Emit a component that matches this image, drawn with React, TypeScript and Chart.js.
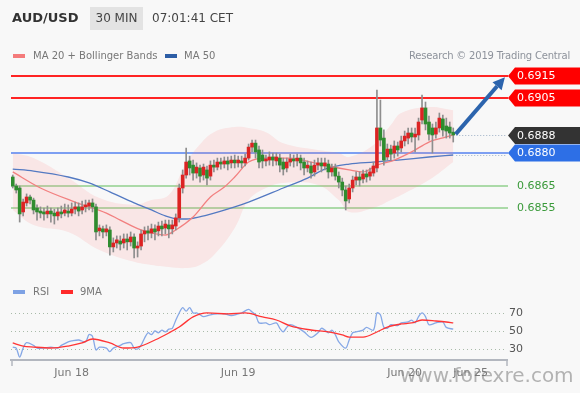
import React, { useEffect, useRef } from 'react';
import { Chart, registerables } from 'chart.js';

Chart.register(...registerables);

const FONT = '"DejaVu Sans", Verdana, sans-serif';

// ---- x slots (30-min candles) ----
const slotCount = 143;
const xTickIndex = [17, 65, 113, 132];
const xTickText = ['Jun 18', 'Jun 19', 'Jun 20', 'Jun 25'];

// ---- candles ----
const opens = [
  0.68691, 0.6865, 0.68641, 0.68532, 0.68573, 0.686, 0.68586, 0.6855, 0.68536, 0.68532,
  0.68523, 0.68536, 0.68527, 0.68514, 0.68532, 0.68527, 0.68536, 0.68527, 0.68545, 0.68555,
  0.68541, 0.68555, 0.68559, 0.68573, 0.68555, 0.68446, 0.68455, 0.68441, 0.6845, 0.68373,
  0.68391, 0.684, 0.68391, 0.68409, 0.68396, 0.68418, 0.68368, 0.68377, 0.68432, 0.68446,
  0.68436, 0.68455, 0.68446, 0.68468, 0.68459, 0.68473, 0.68455, 0.68468, 0.68505, 0.68641,
  0.687, 0.68764, 0.68745, 0.68709, 0.68732, 0.687, 0.68723, 0.68695, 0.68745, 0.68736,
  0.68759, 0.6875, 0.68764, 0.68755, 0.68768, 0.68755, 0.68764, 0.68755, 0.68777, 0.68827,
  0.68845, 0.68814, 0.68791, 0.68764, 0.68768, 0.68782, 0.68764, 0.68777, 0.68759, 0.68732,
  0.68759, 0.68773, 0.68764, 0.68777, 0.68759, 0.68732, 0.68741, 0.68714, 0.68745, 0.68755,
  0.68741, 0.6875, 0.68714, 0.68732, 0.68695, 0.68668, 0.68632, 0.68591, 0.68641, 0.68677,
  0.68691, 0.68682, 0.68705, 0.68695, 0.68709, 0.68732, 0.68914, 0.68868, 0.68782, 0.68818,
  0.688, 0.68832, 0.68823, 0.68855, 0.68868, 0.68891, 0.68873, 0.68882, 0.6895, 0.69005,
  0.68941, 0.68914, 0.68886, 0.68914, 0.68955, 0.68923, 0.68918, 0.68895,
];
const highs = [
  0.687, 0.68659, 0.6865, 0.68591, 0.68614, 0.68609, 0.68595, 0.68564, 0.68555, 0.6855,
  0.68559, 0.6855, 0.68545, 0.6855, 0.68559, 0.68568, 0.68564, 0.68573, 0.68577, 0.68573,
  0.68582, 0.68586, 0.68586, 0.68591, 0.68568, 0.68473, 0.68468, 0.68473, 0.68464, 0.68414,
  0.68423, 0.68423, 0.68432, 0.68432, 0.68441, 0.68432, 0.68396, 0.6845, 0.68464, 0.68468,
  0.68477, 0.68473, 0.68486, 0.68491, 0.68495, 0.68495, 0.68495, 0.68523, 0.68659, 0.68723,
  0.68823, 0.68786, 0.68768, 0.68755, 0.68745, 0.6875, 0.68741, 0.68764, 0.68768, 0.68777,
  0.68777, 0.68782, 0.68782, 0.68786, 0.68791, 0.68786, 0.68786, 0.68795, 0.68841, 0.68859,
  0.68859, 0.68832, 0.68814, 0.68791, 0.68805, 0.688, 0.688, 0.68795, 0.68777, 0.68777,
  0.68795, 0.68791, 0.68795, 0.68791, 0.68777, 0.68764, 0.68759, 0.68768, 0.68777, 0.68777,
  0.68777, 0.68768, 0.6875, 0.6875, 0.68714, 0.68686, 0.6865, 0.68659, 0.68695, 0.68714,
  0.68714, 0.68723, 0.68723, 0.68732, 0.68759, 0.69086, 0.69041, 0.68905, 0.68841, 0.68836,
  0.68855, 0.6885, 0.68877, 0.689, 0.68914, 0.68914, 0.68914, 0.68959, 0.69064, 0.69032,
  0.68968, 0.68932, 0.68941, 0.68982, 0.68973, 0.68959, 0.68941, 0.68914,
];
const lows = [
  0.68641, 0.68618, 0.68486, 0.68514, 0.68559, 0.68568, 0.68523, 0.68495, 0.68505, 0.68495,
  0.68505, 0.68486, 0.68477, 0.68495, 0.68505, 0.68514, 0.68509, 0.68514, 0.68523, 0.68514,
  0.68523, 0.68532, 0.68541, 0.68532, 0.68405, 0.68423, 0.68414, 0.68423, 0.68336, 0.6835,
  0.68368, 0.68359, 0.68368, 0.68359, 0.68377, 0.68323, 0.68327, 0.68359, 0.68396, 0.68405,
  0.68414, 0.68405, 0.68423, 0.68423, 0.68432, 0.68414, 0.68432, 0.6845, 0.68486, 0.68618,
  0.68686, 0.687, 0.68677, 0.68686, 0.68668, 0.68677, 0.68655, 0.68677, 0.68714, 0.68723,
  0.68727, 0.68732, 0.68723, 0.68732, 0.68732, 0.68736, 0.68732, 0.68741, 0.68768, 0.68805,
  0.68777, 0.68732, 0.68732, 0.68741, 0.68745, 0.68741, 0.68745, 0.68714, 0.687, 0.68714,
  0.68741, 0.68736, 0.68741, 0.68723, 0.687, 0.68714, 0.68686, 0.68695, 0.68723, 0.68714,
  0.68723, 0.68686, 0.68695, 0.68677, 0.68641, 0.68605, 0.68541, 0.68573, 0.68623, 0.68655,
  0.6865, 0.68664, 0.68668, 0.68677, 0.68695, 0.68714, 0.68832, 0.68745, 0.68768, 0.68768,
  0.68777, 0.68786, 0.68805, 0.68832, 0.68841, 0.6885, 0.68805, 0.68859, 0.68932, 0.68905,
  0.68859, 0.688, 0.68868, 0.68895, 0.68877, 0.68868, 0.68868, 0.6885,
];
const closes = [
  0.6865, 0.68632, 0.68523, 0.68577, 0.686, 0.68586, 0.68541, 0.68532, 0.68527, 0.68523,
  0.68536, 0.68523, 0.68514, 0.68532, 0.68523, 0.68541, 0.68527, 0.68545, 0.68555, 0.68536,
  0.68555, 0.68564, 0.68573, 0.68555, 0.68441, 0.68459, 0.68441, 0.68455, 0.68373, 0.68391,
  0.68405, 0.68386, 0.68409, 0.68396, 0.68418, 0.68368, 0.68377, 0.68432, 0.68446, 0.68436,
  0.68455, 0.68441, 0.68468, 0.68455, 0.68477, 0.68455, 0.68473, 0.68505, 0.68641, 0.687,
  0.68759, 0.68732, 0.68709, 0.68736, 0.68695, 0.68736, 0.68686, 0.68745, 0.68736, 0.68759,
  0.6875, 0.68764, 0.6875, 0.68768, 0.68755, 0.68768, 0.68755, 0.68777, 0.68827, 0.68845,
  0.68805, 0.68759, 0.68764, 0.68773, 0.68782, 0.68768, 0.68782, 0.68745, 0.68727, 0.68759,
  0.68773, 0.68764, 0.68777, 0.68755, 0.68732, 0.68745, 0.68709, 0.68745, 0.68755, 0.68741,
  0.68755, 0.68714, 0.68732, 0.68695, 0.68668, 0.68632, 0.68582, 0.68641, 0.68677, 0.68691,
  0.68677, 0.68705, 0.68691, 0.68714, 0.68741, 0.68914, 0.68859, 0.68768, 0.68818, 0.68795,
  0.68832, 0.68814, 0.68855, 0.68877, 0.68891, 0.68873, 0.68886, 0.68941, 0.69005, 0.68932,
  0.68886, 0.68882, 0.68914, 0.68959, 0.68905, 0.689, 0.68891, 0.68882,
];

// ---- Bollinger bands / moving averages (read at selected candles) ----
const bandIdx = [0, 6, 16, 25, 35, 40, 45, 50, 54, 58, 64, 68, 73, 78, 88, 94, 97, 104, 109, 112, 120, 127];
const bandUpper = [0.688, 0.68777, 0.68686, 0.68595, 0.68564, 0.68586, 0.68609, 0.68755, 0.6884, 0.68895, 0.68918, 0.68914, 0.68895, 0.68845, 0.68814, 0.688, 0.68782, 0.68836, 0.68927, 0.68982, 0.69009, 0.68995];
const bandLower = [0.68541, 0.68473, 0.68441, 0.68359, 0.68305, 0.68291, 0.68282, 0.68277, 0.68291, 0.68336, 0.68459, 0.68586, 0.68641, 0.68664, 0.68655, 0.68586, 0.68532, 0.6855, 0.68586, 0.68609, 0.68677, 0.68759];

const ma20Idx = [0, 8, 18, 27, 31, 37, 44, 47, 52, 57, 61, 64, 68, 73, 80, 86, 91, 97, 101, 105, 110, 115, 120, 125, 127];
const ma20 = [0.68714, 0.68641, 0.68577, 0.68527, 0.68495, 0.6845, 0.68427, 0.6845, 0.68509, 0.686, 0.68645, 0.68691, 0.68759, 0.68777, 0.68777, 0.68759, 0.68741, 0.68723, 0.68714, 0.68745, 0.68768, 0.68805, 0.6885, 0.68873, 0.68882];

const ma50Idx = [0, 6, 16, 22, 28, 35, 40, 44, 48, 50, 56, 64, 68, 78, 85, 90, 97, 104, 111, 120, 127];
const ma50 = [0.68727, 0.68718, 0.68691, 0.68664, 0.68623, 0.68573, 0.68541, 0.68514, 0.685, 0.685, 0.68518, 0.68555, 0.68577, 0.68641, 0.68686, 0.68727, 0.6875, 0.68759, 0.68768, 0.68782, 0.68791];

// ---- levels ----
const resistances = [0.6915, 0.6905];
const pivotLevel = 0.688;
const supports = [0.6865, 0.6855];
const lastPrice = 0.6888;
const arrowFrom = [127.7, 0.68886];
const arrowTo = [141.9, 0.69145];

// ---- RSI panel ----
const rsiIdx = [0, 1, 2, 3, 4, 6, 7, 9, 11, 13, 14, 16, 17, 19, 21, 22, 23, 24, 25, 27, 28, 29, 31, 32, 34, 35, 36, 37, 38, 39, 40, 41, 42, 43, 44, 45, 46, 47, 48, 49, 50, 51, 52, 53, 54, 55, 57, 59, 61, 63, 65, 66, 68, 69, 70, 71, 73, 74, 76, 77, 78, 79, 80, 82, 84, 86, 88, 89, 90, 91, 92, 93, 94, 96, 97, 98, 99, 101, 102, 104, 105, 106, 107, 108, 109, 111, 112, 114, 115, 116, 117, 118, 119, 120, 122, 124, 125, 127];
const rsi = [32, 31, 21, 31, 37, 34, 31, 31, 32, 31, 34, 38, 39, 40, 38, 46, 44, 29, 32, 31, 27, 31, 34, 36, 37, 31, 30, 34, 42, 48, 46, 50, 48, 51, 49, 52, 53, 62, 70, 76, 72, 76, 70, 70, 68, 66, 68, 69, 69, 67, 69, 70, 74, 71, 68, 59, 59, 57, 59, 53, 49, 54, 57, 54, 49, 43, 48, 53, 51, 48, 51, 46, 38, 31, 40, 48, 49, 51, 54, 51, 70, 68, 54, 53, 57, 56, 59, 60, 62, 59, 66, 70, 66, 57, 59, 60, 54, 52];
const rsiMaIdx = [0, 3, 6, 11, 16, 20, 23, 28, 32, 36, 41, 45, 48, 52, 56, 62, 67, 72, 76, 80, 86, 91, 95, 97, 101, 105, 108, 112, 115, 118, 122, 125, 127];
const rsiMa = [36.7, 33.3, 32.2, 31.1, 33.3, 36.7, 41.1, 36.7, 31.1, 32.2, 40, 47.8, 54.4, 65.6, 70, 68.9, 70, 65.6, 62.2, 55.6, 51.1, 48.9, 45.6, 43.3, 43.3, 48.9, 54.4, 57.8, 58.9, 62.2, 61.1, 60, 58.9];
const rsiLevels = [30, 50, 70];

const UP = '#dc2323';
const DOWN = '#2f8c2f';

function pts(idx: number[], vals: number[]) {
  return idx.map((x, i) => ({ x, y: vals[i] }));
}

function drawTag(ctx: CanvasRenderingContext2D, tipX: number, y: number, text: string, bg: string) {
  const h = 17;
  const bodyX = tipX + 7;
  ctx.save();
  ctx.fillStyle = bg;
  ctx.beginPath();
  ctx.moveTo(tipX, y);
  ctx.lineTo(bodyX, y - h / 2);
  ctx.lineTo(580, y - h / 2);
  ctx.lineTo(580, y + h / 2);
  ctx.lineTo(bodyX, y + h / 2);
  ctx.closePath();
  ctx.fill();
  ctx.fillStyle = '#ffffff';
  ctx.font = '11px ' + FONT;
  ctx.textAlign = 'left';
  ctx.textBaseline = 'middle';
  ctx.fillText(text, bodyX + 2, y + 0.5);
  ctx.restore();
}

const levelsPlugin = {
  id: 'levels',
  beforeDatasetsDraw(chart: any) {
    const { ctx, chartArea, scales } = chart;
    const y = scales.y;
    const tipX = chartArea.right + 1;
    ctx.save();
    ctx.lineWidth = 2;
    const line = (v: number, color: string) => {
      const py = Math.round(y.getPixelForValue(v));
      ctx.strokeStyle = color;
      ctx.beginPath();
      ctx.moveTo(chartArea.left, py);
      ctx.lineTo(tipX, py);
      ctx.stroke();
    };
    supports.forEach((v) => line(v, '#abdaa8'));
    line(pivotLevel, '#7d9ff2');
    resistances.forEach((v) => line(v, '#ff2424'));
    ctx.restore();
  },
  afterDatasetsDraw(chart: any) {
    const { ctx, chartArea, scales } = chart;
    const x = scales.x;
    const y = scales.y;
    const tipX = chartArea.right + 1;
    ctx.save();
    ctx.setLineDash([1, 2]);
    ctx.lineWidth = 1;
    ctx.strokeStyle = '#9db0c6';
    const startX = x.getPixelForValue(closes.length - 1) + 3;
    [lastPrice, ma50[ma50.length - 1]].forEach((v) => {
      const py = Math.round(y.getPixelForValue(v)) + 0.5;
      ctx.beginPath();
      ctx.moveTo(startX, py);
      ctx.lineTo(tipX - 2, py);
      ctx.stroke();
    });
    ctx.setLineDash([]);
    const x0 = x.getPixelForValue(arrowFrom[0]);
    const y0 = y.getPixelForValue(arrowFrom[1]);
    const x1 = x.getPixelForValue(arrowTo[0]);
    const y1 = y.getPixelForValue(arrowTo[1]);
    const ang = Math.atan2(y1 - y0, x1 - x0);
    const headLen = 12;
    const headW = 6;
    const bx = x1 - headLen * Math.cos(ang);
    const by = y1 - headLen * Math.sin(ang);
    ctx.strokeStyle = '#2c64ad';
    ctx.fillStyle = '#2c64ad';
    ctx.lineWidth = 4;
    ctx.beginPath();
    ctx.moveTo(x0, y0);
    ctx.lineTo(bx, by);
    ctx.stroke();
    ctx.beginPath();
    ctx.moveTo(x1, y1);
    ctx.lineTo(bx + headW * Math.sin(ang), by - headW * Math.cos(ang));
    ctx.lineTo(bx - headW * Math.sin(ang), by + headW * Math.cos(ang));
    ctx.closePath();
    ctx.fill();
    ctx.restore();
    resistances.forEach((v) => drawTag(ctx, tipX, y.getPixelForValue(v), v.toFixed(4), '#ff0000'));
    drawTag(ctx, tipX, y.getPixelForValue(lastPrice), lastPrice.toFixed(4), '#333333');
    drawTag(ctx, tipX, y.getPixelForValue(pivotLevel), pivotLevel.toFixed(4), '#2d6fe6');
    ctx.save();
    ctx.fillStyle = '#3a9a3a';
    ctx.font = '11px ' + FONT;
    ctx.textAlign = 'left';
    ctx.textBaseline = 'middle';
    supports.forEach((v) => ctx.fillText(v.toFixed(4), tipX + 9, y.getPixelForValue(v) + 0.5));
    ctx.restore();
  },
};

const rsiPlugin = {
  id: 'rsiGrid',
  beforeDatasetsDraw(chart: any) {
    const { ctx, chartArea, scales } = chart;
    ctx.save();
    ctx.setLineDash([1, 3]);
    ctx.lineWidth = 1;
    ctx.strokeStyle = '#a9bba9';
    rsiLevels.forEach((v) => {
      const py = Math.round(scales.y.getPixelForValue(v)) + 0.5;
      ctx.beginPath();
      ctx.moveTo(chartArea.left, py);
      ctx.lineTo(chartArea.right - 2, py);
      ctx.stroke();
    });
    ctx.restore();
  },
  afterDraw(chart: any) {
    const { ctx, chartArea } = chart;
    ctx.save();
    ctx.strokeStyle = '#b3b7bf';
    ctx.lineWidth = 1.5;
    [chartArea.left + 1, chartArea.right].forEach((px) => {
      ctx.beginPath();
      ctx.moveTo(px, chartArea.bottom);
      ctx.lineTo(px, chartArea.bottom + 6);
      ctx.stroke();
    });
    ctx.restore();
  },
};

export default function App() {
  const mainRef = useRef<HTMLCanvasElement>(null);
  const rsiRef = useRef<HTMLCanvasElement>(null);

  useEffect(() => {
    Chart.defaults.font.family = FONT;
    const candleColors = opens.map((o, i) => (closes[i] >= o ? UP : DOWN));
    const main = new Chart(mainRef.current as HTMLCanvasElement, {
      type: 'bar',
      data: {
        datasets: [
          {
            type: 'line',
            data: pts(bandIdx, bandUpper),
            borderColor: 'rgba(0,0,0,0)',
            borderWidth: 0,
            backgroundColor: 'rgba(255,130,130,0.15)',
            fill: '+1',
            pointRadius: 0,
            tension: 0.4,
            order: 6,
          } as any,
          {
            type: 'line',
            data: pts(bandIdx, bandLower),
            borderColor: 'rgba(0,0,0,0)',
            borderWidth: 0,
            fill: false,
            pointRadius: 0,
            tension: 0.4,
            order: 5,
          } as any,
          {
            type: 'line',
            data: pts(ma50Idx, ma50),
            borderColor: '#5379c2',
            borderWidth: 1.3,
            fill: false,
            pointRadius: 0,
            cubicInterpolationMode: 'monotone',
            order: 4,
          } as any,
          {
            type: 'line',
            data: pts(ma20Idx, ma20),
            borderColor: '#f28080',
            borderWidth: 1.3,
            fill: false,
            pointRadius: 0,
            cubicInterpolationMode: 'monotone',
            order: 3,
          } as any,
          {
            type: 'bar',
            data: lows.map((l, i) => ({ x: i, y: [l, highs[i]] })),
            backgroundColor: '#8e8e8e',
            barThickness: 1,
            grouped: false,
            order: 2,
          } as any,
          {
            type: 'bar',
            data: opens.map((o, i) => ({ x: i, y: [o, closes[i]] })),
            backgroundColor: candleColors,
            barThickness: 3,
            grouped: false,
            order: 1,
          } as any,
        ],
      },
      options: {
        responsive: false,
        animation: false,
        devicePixelRatio: 1,
        layout: { padding: { top: 62, bottom: 123, left: 11, right: 73 } },
        plugins: { legend: { display: false }, tooltip: { enabled: false } },
        scales: {
          x: { type: 'linear', min: -0.5, max: slotCount - 0.5, offset: false, display: false },
          y: { type: 'linear', min: 0.68268, max: 0.69214, beginAtZero: false, display: false },
        },
      } as any,
      plugins: [levelsPlugin],
    });

    const rsiChart = new Chart(rsiRef.current as HTMLCanvasElement, {
      type: 'line',
      data: {
        datasets: [
          {
            data: pts(rsiMaIdx, rsiMa),
            borderColor: '#ff3434',
            borderWidth: 1.3,
            pointRadius: 0,
            cubicInterpolationMode: 'monotone',
            order: 1,
          } as any,
          {
            data: pts(rsiIdx, rsi),
            borderColor: '#86a8e6',
            borderWidth: 1.3,
            pointRadius: 0,
            tension: 0.3,
            order: 2,
          } as any,
        ],
      },
      options: {
        responsive: false,
        animation: false,
        devicePixelRatio: 1,
        layout: { padding: { top: 300, bottom: 0, left: 11, right: 0 } },
        plugins: { legend: { display: false }, tooltip: { enabled: false } },
        scales: {
          x: {
            type: 'linear',
            min: -0.5,
            max: slotCount - 0.5,
            offset: false,
            grid: { display: false, drawTicks: false },
            border: { display: true, color: '#b3b7bf', width: 2 },
            ticks: {
              color: '#777777',
              font: { size: 11, family: FONT },
              padding: 7,
              maxRotation: 0,
              autoSkip: false,
              callback: (v: any) => {
                const k = xTickIndex.indexOf(Number(v));
                return k >= 0 ? xTickText[k] : '';
              },
            },
            afterBuildTicks: (s: any) => {
              s.ticks = xTickIndex.map((v) => ({ value: v }));
            },
            afterFit: (s: any) => {
              s.height = 33;
            },
          },
          y: {
            type: 'linear',
            position: 'right',
            min: 17.8,
            max: 84.4,
            grid: { display: false, drawTicks: false },
            border: { display: false },
            ticks: {
              color: '#555555',
              font: { size: 11, family: FONT },
              padding: 2,
              callback: (v: any) => String(v),
            },
            afterBuildTicks: (s: any) => {
              s.ticks = rsiLevels.map((v) => ({ value: v }));
            },
            afterFit: (s: any) => {
              s.width = 73;
            },
          },
        },
      } as any,
      plugins: [rsiPlugin],
    });

    return () => {
      main.destroy();
      rsiChart.destroy();
    };
  }, []);

  const abs = (o: React.CSSProperties): React.CSSProperties => ({ position: 'absolute', whiteSpace: 'nowrap', ...o });

  return (
    <div
      style={{
        position: 'fixed',
        left: 0,
        top: 0,
        width: 580,
        height: 393,
        background: '#f8f8f8',
        overflow: 'hidden',
        fontFamily: FONT,
      }}
    >
      <canvas ref={mainRef} width={580} height={393} style={{ position: 'absolute', left: 0, top: 0, width: 580, height: 393 }} />
      <canvas ref={rsiRef} width={580} height={393} style={{ position: 'absolute', left: 0, top: 0, width: 580, height: 393 }} />

      <div style={abs({ left: 12, top: 9, fontSize: 13, lineHeight: '18px', fontWeight: 'bold', color: '#333' })}>AUD/USD</div>
      <div
        style={abs({
          left: 90,
          top: 7,
          width: 53,
          height: 23,
          background: '#e3e3e3',
          color: '#444',
          fontSize: 12,
          lineHeight: '23px',
          textAlign: 'center',
        })}
      >
        30 MIN
      </div>
      <div style={abs({ left: 152, top: 10, fontSize: 12, lineHeight: '16px', color: '#444' })}>07:01:41 CET</div>

      <div style={abs({ left: 13, top: 54, width: 12, height: 4, background: '#f47b7b' })} />
      <div style={abs({ left: 33, top: 49, fontSize: 10, lineHeight: '14px', color: '#777' })}>MA 20 + Bollinger Bands</div>
      <div style={abs({ left: 165, top: 54, width: 12, height: 4, background: '#2d5ea6' })} />
      <div style={abs({ left: 184, top: 49, fontSize: 10, lineHeight: '14px', color: '#777' })}>MA 50</div>
      <div style={abs({ right: 10, top: 49, fontSize: 10, lineHeight: '14px', color: '#8d929b', letterSpacing: -0.2 })}>Research © 2019 Trading Central</div>

      <div style={abs({ left: 13, top: 290, width: 12, height: 4, background: '#7ea2e4' })} />
      <div style={abs({ left: 33, top: 285, fontSize: 10, lineHeight: '14px', color: '#777' })}>RSI</div>
      <div style={abs({ left: 61, top: 290, width: 12, height: 4, background: '#ff2a2a' })} />
      <div style={abs({ left: 80, top: 285, fontSize: 10, lineHeight: '14px', color: '#777' })}>9MA</div>

      <div style={abs({ left: 400, top: 363, fontSize: 20, lineHeight: '24px', color: 'rgba(120,120,120,0.55)' })}>www.forexre.com</div>
    </div>
  );
}
